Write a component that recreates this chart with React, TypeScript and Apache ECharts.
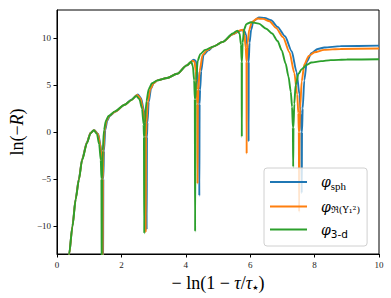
import React, { useEffect, useRef } from "react";
import * as echarts from "echarts";

// x = -ln(1 - tau/tau*), y = ln(-R)
const sphX = [0.30,0.38,0.48,0.58,0.68,0.78,0.93,1.04,1.16,1.28,1.35,1.40,1.42,1.43,1.44,1.46,1.50,1.56,1.64,1.8,2.1,2.31,2.51,2.61,2.69,2.76,2.775,2.785,2.795,2.81,2.85,2.92,3.0,3.12,3.42,3.73,4.03,4.25,4.31,4.36,4.395,4.41,4.42,4.43,4.445,4.48,4.55,4.7,4.85,5.15,5.46,5.7,5.8,5.87,5.92,5.945,5.95,5.955,5.98,6.03,6.1,6.27,6.45,6.65,6.85,7.08,7.29,7.44,7.53,7.57,7.59,7.60,7.61,7.63,7.68,7.76,7.9,8.1,8.3,8.8,10];
const sphY = [-16,-13,-10.0,-7.1,-5.0,-2.9,-1.1,-0.1,0.2,-0.2,-1.3,-3.0,-5,-16,-5,-2.0,0.2,1.2,1.7,2.15,2.9,3.45,4.0,3.6,2.5,0.8,-0.5,-10.4,-0.5,1.0,3.2,4.6,5.2,5.5,5.75,6.2,7.1,7.7,7.6,6.5,4.5,3,-6.8,3,4.5,6.5,8.2,8.7,9.1,9.6,10.4,10.8,10.9,10.4,9.0,7.5,-1.0,7.5,9.5,10.9,11.8,12.2,12.15,11.9,11.2,10.2,8.6,6.4,4.0,2.0,0,-6.5,0,2.5,5.5,7.5,8.4,8.85,9.0,9.15,9.2];

const reX = [0.30,0.38,0.48,0.58,0.68,0.78,0.93,1.04,1.15,1.27,1.34,1.39,1.405,1.415,1.425,1.44,1.48,1.54,1.62,1.8,2.1,2.31,2.49,2.59,2.67,2.73,2.745,2.755,2.765,2.78,2.82,2.9,3.0,3.12,3.42,3.73,4.03,4.22,4.27,4.31,4.34,4.355,4.365,4.375,4.39,4.43,4.52,4.65,4.85,5.15,5.46,5.66,5.76,5.82,5.86,5.885,5.89,5.895,5.92,5.97,6.05,6.22,6.4,6.6,6.8,7.02,7.22,7.37,7.46,7.495,7.51,7.52,7.53,7.55,7.6,7.68,7.82,8.0,8.3,8.8,10];
const reY = [-16,-13,-10.05,-7.15,-5.05,-2.95,-1.15,-0.1,0.2,-0.2,-1.3,-3.0,-5,-16,-5,-2.0,0.2,1.2,1.7,2.15,2.9,3.4,3.95,3.6,2.5,0.8,-0.5,-10.7,-0.5,1.0,3.2,4.6,5.2,5.5,5.75,6.2,7.1,7.6,7.5,6.5,4.5,3,-5.5,3,4.5,6.5,8.2,8.7,9.1,9.6,10.4,10.8,10.9,10.4,9.0,7.5,-2.3,7.5,9.5,10.9,11.7,12.1,12.05,11.8,11.1,10.1,8.5,6.3,4.0,2.0,0,-8.5,0,2.5,5.4,7.2,8.1,8.5,8.75,8.85,8.9];

const d3X = [0.30,0.376,0.48,0.58,0.68,0.78,0.93,1.04,1.14,1.24,1.31,1.36,1.38,1.39,1.40,1.42,1.46,1.52,1.6,1.8,2.1,2.31,2.46,2.56,2.64,2.69,2.70,2.71,2.72,2.73,2.78,2.85,2.95,3.12,3.42,3.73,4.03,4.17,4.22,4.26,4.28,4.29,4.30,4.32,4.37,4.45,4.6,4.85,5.15,5.46,5.60,5.67,5.715,5.735,5.74,5.745,5.765,5.81,5.88,6.02,6.27,6.5,6.68,6.85,6.98,7.1,7.19,7.26,7.30,7.325,7.335,7.345,7.37,7.41,7.5,7.6,7.75,7.9,8.2,8.5,9.0,10];
const d3Y = [-16,-13,-10.1,-7.2,-5.1,-3.0,-1.2,-0.15,0.2,-0.2,-1.3,-3.0,-5,-16,-5,-2.0,0.2,1.2,1.7,2.2,2.9,3.4,3.85,3.5,2.5,0.8,-0.5,-10.8,-0.5,1.0,3.3,4.6,5.2,5.5,5.75,6.2,7.1,7.5,7.0,5.5,3.5,-10.6,3.5,5.5,7.6,8.3,8.75,9.1,9.6,10.5,10.8,10.5,9.3,7.5,-0.5,7.5,9.5,10.9,11.5,11.7,11.55,11.0,10.5,9.7,8.7,7.3,5.9,4.3,2.7,0.5,-3.7,0.5,3.0,5.0,6.2,6.7,7.15,7.4,7.55,7.66,7.72,7.75];

const seriesNames = ["sph", "re", "3d"];
const seriesColors = ["#1f77b4", "#ff7f0e", "#2ca02c"];
const xTicks = [0, 2, 4, 6, 8, 10];
const yTicks = [-10, -5, 0, 5, 10];

const fmt = (v: number) => (v < 0 ? "\u2212" + Math.abs(v) : String(v));

export default function App() {
  const ref = useRef<HTMLDivElement>(null);
  useEffect(() => {
    if (!ref.current) return;
    const chart = echarts.init(ref.current, undefined, { renderer: "svg" });
    const zip = (xs: number[], ys: number[]) => xs.map((x, i) => [x, ys[i]]);
    const datasets = [zip(sphX, sphY), zip(reX, reY), zip(d3X, d3Y)];
    const legendRich: Record<string, string> = {
      sph: "{phi|\u03C6}{sub|sph}",
      re: "{phi|\u03C6}{subr|\u211C(Y\u2081\u00B2)}",
      "3d": "{phi|\u03C6}{subs|3-d}",
    };
    chart.setOption({
      animation: false,
      backgroundColor: "#ffffff",
      grid: {
        left: 51,
        right: 12,
        top: 10,
        bottom: 44,
        show: true,
        borderColor: "#000",
        borderWidth: 1,
        backgroundColor: "transparent",
      },
      xAxis: {
        type: "value",
        min: 0,
        max: 10,
        interval: 2,
        splitLine: { show: false },
        axisLine: { show: true, onZero: false, lineStyle: { color: "#000", width: 1 } },
        axisTick: { show: true, length: 3.5, lineStyle: { color: "#000" }, customValues: xTicks },
        axisLabel: {
          customValues: xTicks,
          formatter: fmt,
          fontFamily: "Liberation Serif",
          fontSize: 9,
          color: "#222",
          margin: 6,
        },
        name: "{n|\u2212 ln(1 \u2212 }{i|\u03C4}{n|/}{i|\u03C4}{s|\u2605}{n|)}",
        nameLocation: "middle",
        nameGap: 20,
        nameTextStyle: {
          rich: {
            n: { fontFamily: "Liberation Serif", fontSize: 18, color: "#000" },
            i: { fontFamily: "Liberation Serif", fontStyle: "italic", fontSize: 18, color: "#000" },
            s: { fontFamily: "DejaVu Sans", fontSize: 7, color: "#000", padding: [9, 0, 0, 0] },
          },
        },
      },
      yAxis: {
        type: "value",
        min: -13,
        max: 13,
        splitLine: { show: false },
        axisLine: { show: true, onZero: false, lineStyle: { color: "#000", width: 1 } },
        axisTick: { show: true, length: 3.5, lineStyle: { color: "#000" }, customValues: yTicks },
        axisLabel: {
          customValues: yTicks,
          formatter: fmt,
          fontFamily: "Liberation Serif",
          fontSize: 9,
          color: "#222",
          margin: 6,
        },
        name: "{n|ln(\u2212}{i|R}{n|)}",
        nameLocation: "middle",
        nameGap: 22,
        nameTextStyle: {
          rich: {
            n: { fontFamily: "Liberation Serif", fontSize: 18, color: "#000" },
            i: { fontFamily: "Liberation Serif", fontStyle: "italic", fontSize: 18, color: "#000" },
          },
        },
      },
      legend: {
        orient: "vertical",
        left: 264,
        top: 168,
        data: seriesNames,
        icon: "rect",
        itemWidth: 37,
        itemHeight: 2,
        itemGap: 8,
        padding: [7, 7, 7, 6],
        backgroundColor: "rgba(255,255,255,0.8)",
        borderColor: "#d0d0d0",
        borderWidth: 1,
        borderRadius: 3,
        formatter: (name: string) => legendRich[name],
        textStyle: {
          padding: [0, 0, 0, 9],
          rich: {
            phi: { fontFamily: "DejaVu Serif", fontStyle: "italic", fontSize: 14, color: "#000", lineHeight: 16 },
            sub: { fontFamily: "Liberation Serif", fontSize: 11, color: "#000", padding: [8, 0, 0, 0] },
            subr: { fontFamily: "DejaVu Serif", fontSize: 9.5, color: "#000", padding: [6, 0, 0, 0] },
            subs: { fontFamily: "DejaVu Sans", fontSize: 10.5, color: "#000", padding: [8, 0, 0, 0] },
          },
        },
      },
      series: seriesNames.map((name, i) => ({
        name,
        type: "line",
        data: datasets[i],
        showSymbol: false,
        symbol: "none",
        smooth: 0.25,
        smoothMonotone: "x",
        clip: true,
        z: i + 2,
        lineStyle: { color: seriesColors[i], width: 1.9 },
        itemStyle: { color: seriesColors[i] },
      })),
    });
    return () => chart.dispose();
  }, []);
  return <div ref={ref} style={{ width: 391, height: 298, position: "absolute", left: 0, top: 0 }} />;
}
